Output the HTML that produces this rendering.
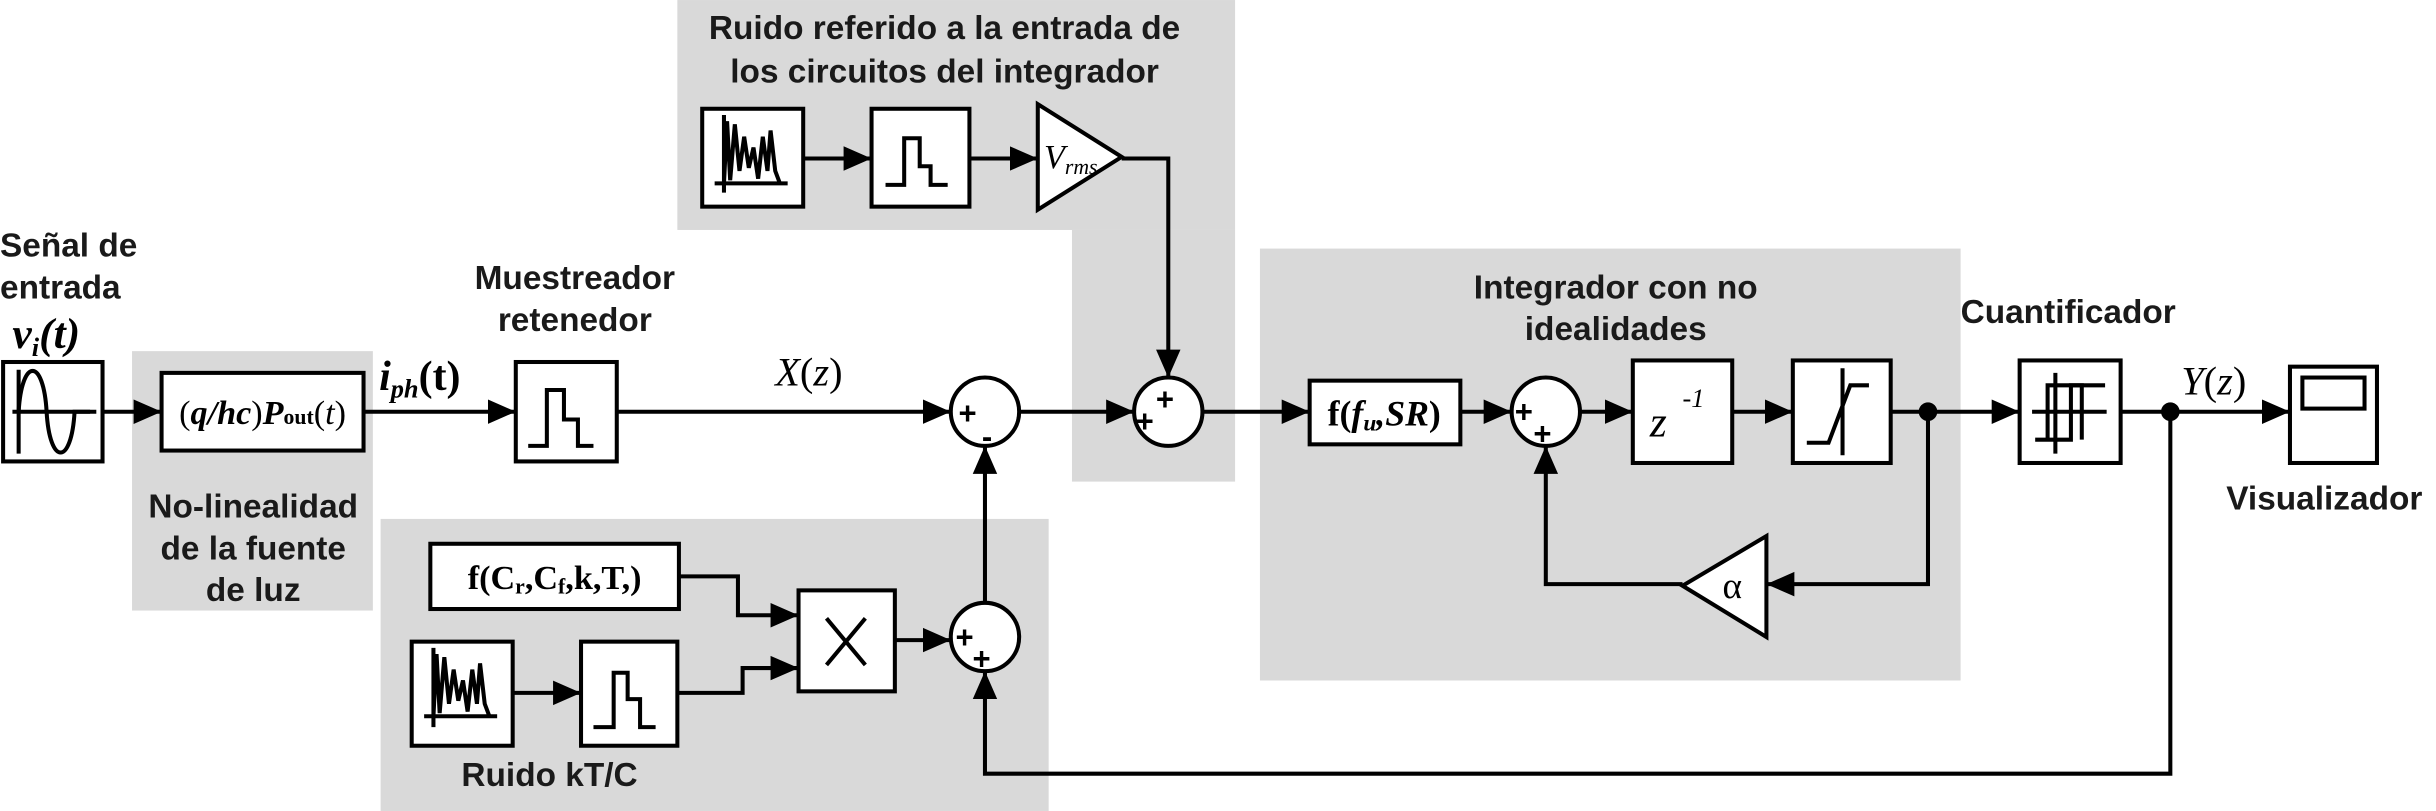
<!DOCTYPE html>
<html><head><meta charset="utf-8"><style>html,body{margin:0;padding:0;background:#fff}svg{display:block}</style></head>
<body>
<svg width="2436" height="811" viewBox="0 0 1568 522" xmlns="http://www.w3.org/2000/svg">
<defs>
<marker id="a" markerWidth="18" markerHeight="16" refX="16" refY="7" orient="auto" markerUnits="userSpaceOnUse" viewBox="0 0 16 14">
<path d="M0,0 L16,7 L0,14 z" fill="#000"/></marker>
</defs>
<style>
.b{fill:#fff;stroke:#000;stroke-width:2.6}
.l{fill:none;stroke:#000;stroke-width:2.6}
.w{stroke:#000;stroke-width:2.6;fill:none}
.t{font-family:"Liberation Sans",sans-serif;font-weight:bold;font-size:21.5px;fill:#1a1a1a}
.s{font-family:"Liberation Serif",serif;fill:#000}
.p{font-family:"Liberation Sans",sans-serif;font-size:20px;font-weight:bold}
</style>
<g fill="#d9d9d9">
<rect x="436" y="0" width="359" height="148"/>
<rect x="690" y="148" width="105" height="162"/>
<rect x="85" y="226" width="155" height="167"/>
<rect x="245" y="334" width="430" height="188"/>
<rect x="811" y="160" width="451" height="278"/>
</g>
<line class="l" x1="66" y1="265" x2="104" y2="265" marker-end="url(#a)"/>
<line class="l" x1="234" y1="265" x2="332" y2="265" marker-end="url(#a)"/>
<line class="l" x1="397" y1="265" x2="612" y2="265" marker-end="url(#a)"/>
<line class="l" x1="656" y1="265" x2="730" y2="265" marker-end="url(#a)"/>
<line class="l" x1="774" y1="265" x2="843" y2="265" marker-end="url(#a)"/>
<line class="l" x1="940" y1="265" x2="973" y2="265" marker-end="url(#a)"/>
<line class="l" x1="1017" y1="265" x2="1051" y2="265" marker-end="url(#a)"/>
<line class="l" x1="1115" y1="265" x2="1154" y2="265" marker-end="url(#a)"/>
<line class="l" x1="1217" y1="265" x2="1300" y2="265" marker-end="url(#a)"/>
<line class="l" x1="1365" y1="265" x2="1474" y2="265" marker-end="url(#a)"/>
<line class="l" x1="517" y1="102" x2="561" y2="102" marker-end="url(#a)"/>
<line class="l" x1="624" y1="102" x2="668" y2="102" marker-end="url(#a)"/>
<polyline class="l" points="722,102 752,102 752,243" marker-end="url(#a)"/>
<polyline class="l" points="1241,265 1241,376 1137,376" marker-end="url(#a)"/>
<polyline class="l" points="1083,376 995,376 995,287" marker-end="url(#a)"/>
<polyline class="l" points="1397,265 1397,498 634,498 634,432" marker-end="url(#a)"/>
<line class="l" x1="634" y1="388" x2="634" y2="287" marker-end="url(#a)"/>
<polyline class="l" points="437,371 475,371 475,396 514,396" marker-end="url(#a)"/>
<polyline class="l" points="436,446 478,446 478,430 514,430" marker-end="url(#a)"/>
<line class="l" x1="330" y1="446" x2="374" y2="446" marker-end="url(#a)"/>
<line class="l" x1="576" y1="412" x2="612" y2="412" marker-end="url(#a)"/>
<circle cx="1241" cy="265" r="6" fill="#000"/>
<circle cx="1397" cy="265" r="6" fill="#000"/>
<!-- sine -->
<rect class="b" x="2" y="233" width="64" height="64"/>
<line class="w" x1="8" y1="265" x2="62" y2="265"/>
<line class="w" x1="12" y1="238" x2="12" y2="292"/>
<path class="w" d="M12,265 C14,230 28,230 30,265 C32,300 46,300 48,265 L58,265"/>
<rect class="b" x="104" y="240" width="130" height="50"/>
<text class="s" x="169" y="273" font-size="22" text-anchor="middle">(<tspan font-style="italic" font-weight="bold">q/hc</tspan>)<tspan font-style="italic" font-weight="bold">P</tspan><tspan font-size="14" font-weight="bold">out</tspan>(<tspan font-style="italic">t</tspan>)</text>
<rect class="b" x="332" y="233" width="65" height="64"/>
<polyline class="w" points="340,287 352,287 352,251 363,251 363,270 372,270 372,287 382,287"/>
<!-- sums -->
<circle class="b" cx="634" cy="265" r="22"/>
<text class="p" x="617" y="273">+</text>
<text class="p" x="632" y="288">-</text>
<circle class="b" cx="752" cy="265" r="22"/>
<text class="p" x="731" y="278">+</text>
<text class="p" x="744" y="264">+</text>
<circle class="b" cx="995" cy="265" r="22"/>
<text class="p" x="975" y="272">+</text>
<text class="p" x="987" y="286">+</text>
<circle class="b" cx="634" cy="410" r="22"/>
<text class="p" x="615" y="417">+</text>
<text class="p" x="626" y="431">+</text>
<!-- top noise blocks -->
<rect class="b" x="452" y="70" width="65" height="63"/>
<path class="w" d="M460,118 L507,118 M466,74 L466,124 M466,118 L468,78 L470,116 L473,80 L476,110 L479,88 L482,108 L485,95 L488,115 L491,88 L494,110 L496,84 L499,110 L502,118"/>
<rect class="b" x="561" y="70" width="63" height="63"/>
<polyline class="w" points="570,119 582,119 582,89 592,89 592,107 599,107 599,119 610,119"/>
<polygon class="b" points="668,67 668,135 722,101"/>
<text class="s" x="672" y="108" font-size="22" font-style="italic">V<tspan font-size="14" dy="4">rms</tspan></text>
<!-- integrator -->
<rect class="b" x="843" y="245" width="97" height="41"/>
<text class="s" x="891" y="274" font-size="23" font-weight="bold" text-anchor="middle">f(<tspan font-style="italic">f<tspan font-size="15" dy="3">u</tspan><tspan dy="-3">,SR</tspan></tspan>)</text>
<rect class="b" x="1051" y="232" width="64" height="66"/>
<text class="s" x="1062" y="281" font-size="28" font-style="italic">z</text>
<text class="s" x="1083" y="262" font-size="17" font-style="italic">-1</text>
<rect class="b" x="1154" y="232" width="63" height="66"/>
<line class="w" x1="1186" y1="237" x2="1186" y2="293"/>
<polyline class="w" points="1163,285 1177,285 1191,248 1203,248"/>
<polygon class="b" points="1137,345 1137,410 1083,377"/>
<text class="s" x="1115" y="385" font-size="24" text-anchor="middle">α</text>
<!-- quantizer -->
<rect class="b" x="1300" y="232" width="65" height="66"/>
<g class="w" stroke-width="2.2">
<line x1="1308" y1="265" x2="1356" y2="265"/>
<line x1="1323" y1="240" x2="1323" y2="292"/>
<polyline points="1310,283 1333,283 1333,248 1355,248"/>
<polyline points="1318,283 1318,248 1340,248 1340,283"/>
</g>
<rect class="b" x="1474" y="236" width="56" height="62"/>
<rect class="b" x="1482" y="243" width="40" height="20"/>
<!-- ktc blocks -->
<rect class="b" x="277" y="350" width="160" height="42"/>
<text class="s" x="357" y="379" font-size="22" font-weight="bold" text-anchor="middle">f(C<tspan font-size="14" dy="3">r</tspan><tspan dy="-3">,C</tspan><tspan font-size="14" dy="3">f</tspan><tspan dy="-3">,k,T,)</tspan></text>
<rect class="b" x="514" y="380" width="62" height="65"/>
<path class="w" d="M532,398 L557,428 M557,398 L532,428"/>
<rect class="b" x="265" y="413" width="65" height="67"/>
<path class="w" d="M273,461 L320,461 M279,417 L279,468 M279,461 L281,421 L283,459 L286,423 L289,453 L292,431 L295,451 L298,438 L301,458 L304,431 L307,453 L309,427 L312,453 L315,461"/>
<rect class="b" x="374" y="413" width="62" height="67"/>
<polyline class="w" points="382,468 395,468 395,433 404,433 404,450 412,450 412,468 422,468"/>
<!-- labels -->
<text class="t" x="0" y="165">Señal de</text>
<text class="t" x="0" y="192">entrada</text>
<text class="s" x="8" y="224" font-size="28" font-weight="bold" font-style="italic">v<tspan font-size="17" dy="5">i</tspan><tspan dy="-5">(t)</tspan></text>
<text class="t" x="370" y="186" text-anchor="middle">Muestreador</text>
<text class="t" x="370" y="213" text-anchor="middle">retenedor</text>
<text class="t" x="163" y="333" text-anchor="middle">No-linealidad</text>
<text class="t" x="163" y="360" text-anchor="middle">de la fuente</text>
<text class="t" x="163" y="387" text-anchor="middle">de luz</text>
<text class="s" x="244" y="251" font-size="27" font-weight="bold"><tspan font-style="italic">i</tspan><tspan font-style="italic" font-size="17" dy="5">ph</tspan><tspan dy="-5">(t)</tspan></text>
<text class="s" x="499" y="248" font-size="26" font-style="italic">X<tspan font-style="normal">(</tspan>z<tspan font-style="normal">)</tspan></text>
<text class="t" x="608" y="25" text-anchor="middle">Ruido referido a la entrada de</text>
<text class="t" x="608" y="53" text-anchor="middle">los circuitos del integrador</text>
<text class="t" x="1040" y="192" text-anchor="middle">Integrador con no</text>
<text class="t" x="1040" y="219" text-anchor="middle">idealidades</text>
<text class="t" x="1262" y="208">Cuantificador</text>
<text class="s" x="1404" y="254" font-size="26" font-style="italic">Y<tspan font-style="normal">(</tspan>z<tspan font-style="normal">)</tspan></text>
<text class="t" x="1433" y="328">Visualizador</text>
<text class="t" x="297" y="506">Ruido kT/C</text>
</svg>
</body></html>
